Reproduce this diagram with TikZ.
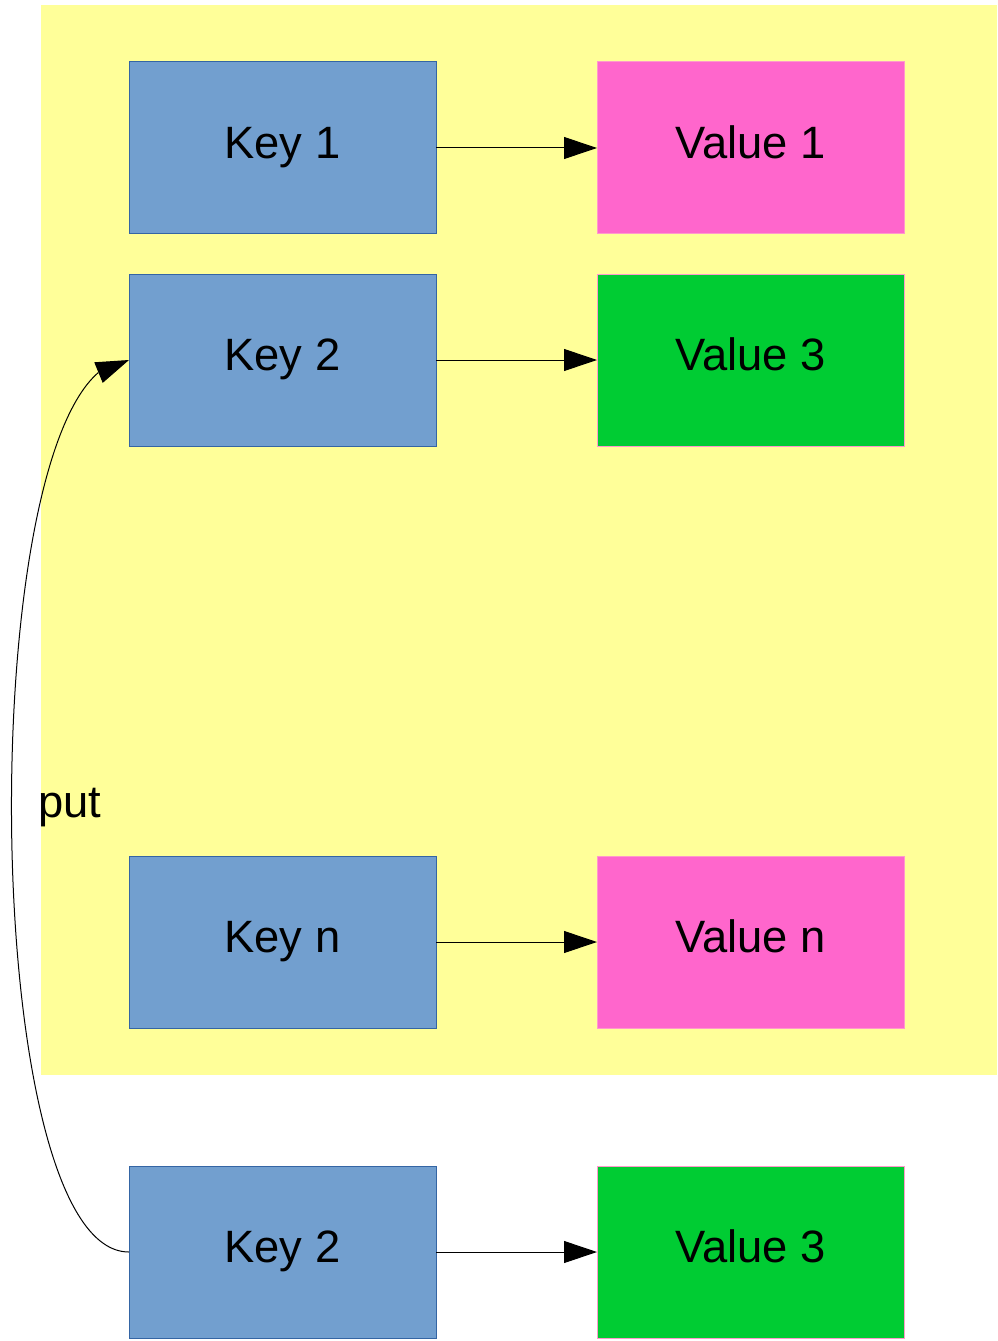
\documentclass[tikz,border=0pt]{standalone}
\usepackage{fontspec}
\setmainfont{Liberation Sans}
\usetikzlibrary{arrows.meta,bending}
\definecolor{bgyellow}{HTML}{FFFF99}
\definecolor{keyblue}{HTML}{729FCF}
\definecolor{keyborder}{HTML}{3465A4}
\definecolor{valpink}{HTML}{FF66CC}
\definecolor{valgreen}{HTML}{00CC33}
\definecolor{valborder}{HTML}{FF99CC}
\begin{document}
\begin{tikzpicture}[x=0.75pt,y=-0.75pt,
  box/.style={line width=0.75pt, minimum width=230.25pt, minimum height=129pt,
    inner sep=0pt, outer sep=0pt, text height=15.5pt, text depth=0pt,
    font=\fontsize{34}{41}\selectfont},
  keybox/.style={box, draw=keyborder, fill=keyblue},
  pinkbox/.style={box, draw=valborder, fill=valpink},
  greenbox/.style={box, draw=valborder, fill=valgreen},
  conn/.style={line width=0.75pt, -{Triangle[length=24.75pt,width=16.5pt,flex]}}
]
\useasboundingbox (0,0) rectangle (997,1341);
\fill[bgyellow] (41,5) rectangle (997,1075);

\node[keybox] (k1) at (282.5,148) {Key 1};
\node[pinkbox] (v1) at (750.5,148) {Value 1};
\node[keybox] (k2) at (282.5,360) {Key 2};
\node[greenbox] (v2) at (750.5,360) {Value 3};
\node[keybox] (kn) at (282.5,942) {Key n};
\node[pinkbox] (vn) at (750.5,942) {Value n};
\node[keybox] (k4) at (282.5,1252) {Key 2};
\node[greenbox] (v4) at (750.5,1252) {Value 3};

\node[anchor=base west, inner sep=0pt, font=\fontsize{34}{41}\selectfont] (put) at (38,817) {put};

\draw[conn] (k1.east) -- (v1.west);
\draw[conn] (k2.east) -- (v2.west);
\draw[conn] (kn.east) -- (vn.west);
\draw[conn] (k4.east) -- (v4.west);
\draw[conn] (k4.west) .. controls (-27.7,1252) and (-27.7,360) .. (k2.west);
\end{tikzpicture}
\end{document}
